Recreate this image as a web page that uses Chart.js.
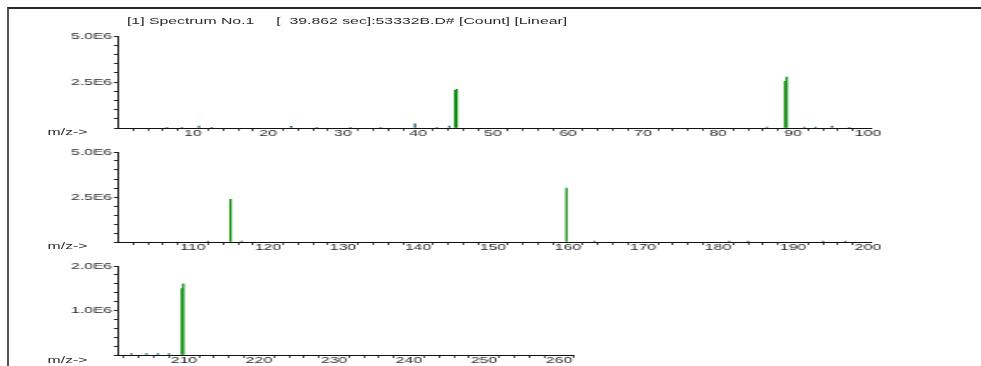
<!DOCTYPE html>
<html>
  <head>
    <meta charset="UTF-8" />
    <script src="https://cdn.jsdelivr.net/npm/chart.js"></script>
    <style>
      body { margin: 0; background: #fff; width: 981px; height: 366px; overflow: hidden; position: relative;
             font-family: "Liberation Sans", Arial, sans-serif; }
      #frame { position: absolute; left: 7px; top: 7px; width: 990px; height: 380px;
               border-top: 2px solid #2a2a2a; border-left: 2px solid #555; }
      /* the original print is stretched sideways, so draw narrow and widen */
      #wrap { position: absolute; left: 0; top: 0; width: 577px; height: 366px;
              transform: scaleX(1.7); transform-origin: 0 0; }
      #wrap canvas { position: absolute; left: 0; }
      .txt { position: absolute; font-size: 9.3px; line-height: 10px; color: #2a2a2a; white-space: pre; }
    </style>
  </head>
  <body>
    <div id="frame"></div>
    <div id="wrap">
      <div class="txt" style="left: 74.7px; top: 15.5px">[1] Spectrum No.1     [  39.862 sec]:53332B.D# [Count] [Linear]</div>
      <canvas id="c1" width="520" height="112" style="top: 30px"></canvas>
      <canvas id="c2" width="520" height="110" style="top: 146px"></canvas>
      <canvas id="c3" width="346" height="109" style="top: 260px"></canvas>
      <div class="txt" style="left: 28px; top: 127px">m/z-&gt;</div>
      <div class="txt" style="left: 28px; top: 241px">m/z-&gt;</div>
      <div class="txt" style="left: 28px; top: 355px">m/z-&gt;</div>
    </div>
    <script>
      // panel 1, m/z 0-100
      const mz1 = [44.95, 45.15, 88.95, 89.15];
      const abund1 = [2.05e6, 2.1e6, 2.54e6, 2.77e6];
      const minorMz1 = [6.5, 8.5, 10.8, 12.5, 23.1, 26.5, 31, 35, 39.6, 42.5, 44.2, 86.5, 91.5, 93, 95.2, 97.5];
      const minorAbund1 = [0.04e6, 0.04e6, 0.1e6, 0.04e6, 0.09e6, 0.04e6, 0.04e6, 0.04e6, 0.22e6, 0.04e6, 0.1e6, 0.05e6, 0.05e6, 0.05e6, 0.1e6, 0.04e6];

      // panel 2, m/z 100-200
      const mz2 = [115, 159.8];
      const abund2 = [2.37e6, 3.0e6];
      const minorMz2 = [112, 116.5, 163.5, 181.5, 184, 194, 197];
      const minorAbund2 = [0.05e6, 0.05e6, 0.05e6, 0.05e6, 0.05e6, 0.05e6, 0.05e6];

      // panel 3, m/z 200-262
      const mz3 = [209.7, 209.9];
      const abund3 = [1.49e6, 1.6e6];
      const minorMz3 = [203, 205, 206.5, 208];
      const minorAbund3 = [0.03e6, 0.03e6, 0.03e6, 0.03e6];

      const yLabels12 = [2.5e6, 5e6];
      const yLabels3 = [1e6, 2e6];

      const XSCALE = 1.7;
      const peakColor = "#0b8c0b";
      const minorColor = "#245f70";

      Chart.defaults.font.family = '"Liberation Sans", Arial, sans-serif';
      Chart.defaults.font.size = 9.3;
      Chart.defaults.color = "#2a2a2a";

      const toPoints = (xs, ys) => xs.map((x, i) => ({ x, y: ys[i] }));

      const fmtE = v => v.toExponential(1).toUpperCase().replace("+", "");

      function makePanel(id, opts) {
        const canvas = document.getElementById(id);
        const areaRight = ((opts.xMax - opts.xMin) * 7.5 + 118) / XSCALE;
        new Chart(canvas, {
          type: "bar",
          data: {
            datasets: [
              {
                data: toPoints(opts.minorMz, opts.minorAbund),
                backgroundColor: minorColor,
                barThickness: 0.7,
              },
              {
                data: toPoints(opts.mz, opts.abund),
                backgroundColor: peakColor,
                barThickness: 0.65,
              },
            ],
          },
          options: {
            responsive: false,
            animation: false,
            devicePixelRatio: 1,
            layout: { padding: { top: 6, right: canvas.width - areaRight, bottom: 0, left: 0 } },
            plugins: { legend: { display: false }, tooltip: { enabled: false } },
            datasets: { bar: { grouped: false } },
            scales: {
              x: {
                type: "linear",
                min: opts.xMin,
                max: opts.xMax,
                offset: false,
                grid: {
                  drawOnChartArea: false,
                  offset: false,
                  tickLength: 3,
                  tickWidth: 0.8,
                  color: ctx => (ctx.tick && ctx.tick.value % 10 === 0 ? "rgba(0,0,0,0)" : "#222"),
                },
                border: { display: true, color: "#111", width: 1 },
                ticks: {
                  stepSize: 2,
                  includeBounds: false,
                  autoSkip: false,
                  maxRotation: 0,
                  padding: -3,
                  callback: v => (v % 10 === 0 && v !== opts.xMin ? String(v) : ""),
                },
                afterFit: s => {
                  s.height = 14;
                  s.paddingLeft = 0;
                  s.paddingRight = 0;
                },
              },
              y: {
                min: 0,
                max: opts.yMax,
                grid: { drawOnChartArea: false, tickLength: 2.4, color: "#222" },
                border: { display: true, color: "#111", width: 1 },
                ticks: {
                  stepSize: opts.yStep,
                  autoSkip: false,
                  padding: 1,
                  callback: v => (opts.yLabels.some(l => Math.abs(l - v) < 1) ? fmtE(v) : ""),
                },
                afterFit: s => {
                  s.width = 118 / XSCALE;
                  s.paddingTop = 0;
                  s.paddingBottom = 0;
                },
              },
            },
          },
        });
      }

      makePanel("c1", {
        mz: mz1, abund: abund1, minorMz: minorMz1, minorAbund: minorAbund1,
        xMin: 0, xMax: 100.4, yMax: 5e6, yStep: 0.5e6, yLabels: yLabels12,
      });
      makePanel("c2", {
        mz: mz2, abund: abund2, minorMz: minorMz2, minorAbund: minorAbund2,
        xMin: 100, xMax: 200.4, yMax: 5e6, yStep: 0.5e6, yLabels: yLabels12,
      });
      makePanel("c3", {
        mz: mz3, abund: abund3, minorMz: minorMz3, minorAbund: minorAbund3,
        xMin: 201.2, xMax: 262, yMax: 2e6, yStep: 0.2e6, yLabels: yLabels3,
      });
    </script>
  </body>
</html>
